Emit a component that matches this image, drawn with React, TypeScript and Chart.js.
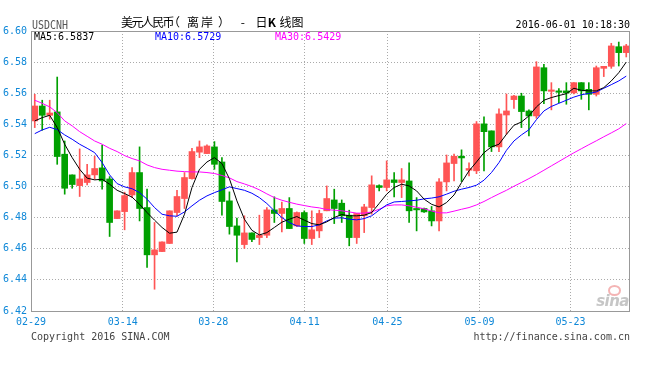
import React, { useEffect, useRef } from 'react';
import { Chart, registerables } from 'chart.js';

Chart.register(...registerables);

// Daily candles (USDCNH), 02-29 .. 06-01
const openP = [
  6.5422, 6.5518, 6.5458, 6.5480, 6.5208, 6.5075, 6.5006, 6.5026, 6.5075, 6.5120,
  6.5049, 6.4794, 6.4839, 6.4946, 6.5090, 6.4865, 6.4561, 6.4582, 6.4634, 6.4833,
  6.4923, 6.5051, 6.5221, 6.5212, 6.5255, 6.5158, 6.4908, 6.4747, 6.4627, 6.4702,
  6.4672, 6.4687, 6.4850, 6.4827, 6.4859, 6.4747, 6.4833, 6.4666, 6.4715, 6.4844,
  6.4914, 6.4893, 6.4816, 6.4672, 6.4812, 6.4865, 6.5006, 6.4994, 6.5043, 6.5026,
  6.5036, 6.4859, 6.4859, 6.4844, 6.4779, 6.5030, 6.5148, 6.5195, 6.5105, 6.5101,
  6.5403, 6.5358, 6.5255, 6.5460, 6.5559, 6.5582, 6.5486, 6.5454, 6.5764, 6.5612,
  6.5615, 6.5615, 6.5602, 6.5668, 6.5625, 6.5593, 6.5760, 6.5773, 6.5899, 6.5861,
];
const highP = [
  6.5593, 6.5555, 6.5555, 6.5704, 6.5293, 6.5075, 6.5242, 6.5143, 6.5195, 6.5266,
  6.5064, 6.4844, 6.4964, 6.5122, 6.5255, 6.4983, 6.4769, 6.4644, 6.4844, 6.4976,
  6.5090, 6.5246, 6.5293, 6.5268, 6.5289, 6.5186, 6.4966, 6.4797, 6.4812, 6.4702,
  6.4816, 6.4865, 6.4934, 6.4901, 6.4929, 6.4837, 6.4844, 6.4844, 6.4848, 6.5004,
  6.4983, 6.4914, 6.4848, 6.4827, 6.4886, 6.5069, 6.5011, 6.5165, 6.5090, 6.5116,
  6.5152, 6.4929, 6.4862, 6.4872, 6.5051, 6.5203, 6.5208, 6.5236, 6.5152, 6.5418,
  6.5448, 6.5358, 6.5499, 6.5595, 6.5587, 6.5600, 6.5493, 6.5803, 6.5786, 6.5668,
  6.5630, 6.5668, 6.5668, 6.5668, 6.5668, 6.5775, 6.5773, 6.5921, 6.5929, 6.5914,
];
const lowP = [
  6.5379, 6.5362, 6.5433, 6.5143, 6.4951, 6.4989, 6.4936, 6.5011, 6.5047, 6.4983,
  6.4679, 6.4794, 6.4722, 6.4929, 6.4779, 6.4480, 6.4340, 6.4582, 6.4634, 6.4812,
  6.4859, 6.5047, 6.5186, 6.5212, 6.5111, 6.4816, 6.4694, 6.4516, 6.4602, 6.4645,
  6.4627, 6.4672, 6.4769, 6.4709, 6.4730, 6.4743, 6.4634, 6.4627, 6.4672, 6.4844,
  6.4762, 6.4769, 6.4619, 6.4634, 6.4704, 6.4822, 6.4972, 6.4972, 6.4934, 6.4929,
  6.4769, 6.4715, 6.4833, 6.4747, 6.4715, 6.4972, 6.5036, 6.5032, 6.5069, 6.5083,
  6.5101, 6.5225, 6.5225, 6.5336, 6.5503, 6.5379, 6.5325, 6.5439, 6.5533, 6.5493,
  6.5540, 6.5529, 6.5596, 6.5561, 6.5493, 6.5582, 6.5707, 6.5760, 6.5775, 6.5833,
];
const closeP = [
  6.5518, 6.5458, 6.5473, 6.5193, 6.4989, 6.5013, 6.5049, 6.5075, 6.5116, 6.5036,
  6.4769, 6.4844, 6.4942, 6.5090, 6.4859, 6.4561, 6.4593, 6.4644, 6.4844, 6.4936,
  6.5058, 6.5225, 6.5255, 6.5261, 6.5143, 6.4904, 6.4743, 6.4687, 6.4702, 6.4660,
  6.4687, 6.4850, 6.4827, 6.4859, 6.4730, 6.4833, 6.4666, 6.4722, 6.4827, 6.4923,
  6.4859, 6.4812, 6.4672, 6.4827, 6.4869, 6.5011, 6.4994, 6.5043, 6.5026, 6.5043,
  6.4844, 6.4850, 6.4837, 6.4779, 6.5030, 6.5152, 6.5195, 6.5184, 6.5116, 6.5403,
  6.5353, 6.5255, 6.5467, 6.5486, 6.5582, 6.5482, 6.5454, 6.5769, 6.5615, 6.5621,
  6.5606, 6.5602, 6.5668, 6.5615, 6.5593, 6.5764, 6.5773, 6.5904, 6.5861, 6.5904,
];

// Moving averages
const ma5 = [
  6.5422, 6.5443, 6.5458, 6.5379, 6.5272, 6.5186, 6.5111, 6.5054, 6.5043, 6.5047,
  6.5015, 6.4976, 6.4955, 6.4932, 6.4886, 6.4833, 6.4784, 6.4737, 6.4700, 6.4707,
  6.4822, 6.4994, 6.5111, 6.5158, 6.5186, 6.5148, 6.5050, 6.4908, 6.4790, 6.4719,
  6.4689, 6.4704, 6.4737, 6.4771, 6.4790, 6.4807, 6.4784, 6.4762, 6.4754, 6.4773,
  6.4801, 6.4820, 6.4812, 6.4812, 6.4816, 6.4833, 6.4891, 6.4951, 6.4994, 6.5015,
  6.5004, 6.4972, 6.4919, 6.4886, 6.4869, 6.4897, 6.4946, 6.5026, 6.5101, 6.5158,
  6.5218, 6.5255, 6.5272, 6.5336, 6.5394, 6.5415, 6.5454, 6.5512, 6.5555, 6.5572,
  6.5585, 6.5597, 6.5632, 6.5619, 6.5615, 6.5615, 6.5636, 6.5679, 6.5732, 6.5800,
];
const ma10 = [
  6.5340, 6.5364, 6.5381, 6.5366, 6.5332, 6.5304, 6.5272, 6.5246, 6.5218, 6.5154,
  6.5075, 6.5019, 6.4998, 6.4986, 6.4961, 6.4919, 6.4865, 6.4822, 6.4812, 6.4809,
  6.4837, 6.4876, 6.4912, 6.4940, 6.4961, 6.4979, 6.4998, 6.4987, 6.4976, 6.4957,
  6.4929, 6.4891, 6.4844, 6.4801, 6.4769, 6.4747, 6.4743, 6.4743, 6.4754, 6.4779,
  6.4797, 6.4799, 6.4790, 6.4786, 6.4794, 6.4812, 6.4848, 6.4882, 6.4901, 6.4904,
  6.4908, 6.4912, 6.4921, 6.4926, 6.4934, 6.4951, 6.4970, 6.4983, 6.4994, 6.5009,
  6.5041, 6.5090, 6.5154, 6.5233, 6.5293, 6.5332, 6.5365, 6.5430, 6.5486, 6.5515,
  6.5535, 6.5555, 6.5575, 6.5590, 6.5599, 6.5608, 6.5632, 6.5655, 6.5679, 6.5710,
];
const ma30 = [
  6.5555, 6.5535, 6.5512, 6.5475, 6.5422, 6.5390, 6.5353, 6.5323, 6.5293, 6.5272,
  6.5246, 6.5225, 6.5199, 6.5180, 6.5165, 6.5139, 6.5122, 6.5111, 6.5105, 6.5099,
  6.5096, 6.5094, 6.5094, 6.5090, 6.5084, 6.5071, 6.5056, 6.5032, 6.5017, 6.5000,
  6.4979, 6.4953, 6.4929, 6.4912, 6.4899, 6.4887, 6.4878, 6.4869, 6.4863, 6.4852,
  6.4848, 6.4844, 6.4837, 6.4829, 6.4829, 6.4837, 6.4854, 6.4876, 6.4882, 6.4882,
  6.4876, 6.4867, 6.4857, 6.4843, 6.4831, 6.4831, 6.4842, 6.4854, 6.4865, 6.4882,
  6.4904, 6.4929, 6.4953, 6.4976, 6.5002, 6.5026, 6.5051, 6.5077, 6.5105, 6.5133,
  6.5161, 6.5189, 6.5217, 6.5243, 6.5269, 6.5294, 6.5320, 6.5345, 6.5371, 6.5405,
];

// Date ticks: position in candle-index units, and their labels
const xTickPos = [-0.5, 11.75, 23.85, 36.05, 47.1, 59.4, 71.55];
const xTickLabels = ['02-29', '03-14', '03-28', '04-11', '04-25', '05-09', '05-23'];
const yTicks = [6.42, 6.44, 6.46, 6.48, 6.5, 6.52, 6.54, 6.56, 6.58, 6.6];

const RED = '#ff5555';
const GREEN = '#00a000';
const TICK_BLUE = '#0f88d8';
const GRID = '#aaaaaa';
const MONO = "'DejaVu Sans Mono', monospace";

const frame = {
  id: 'frame',
  afterDraw(chart: any) {
    const { ctx, chartArea } = chart;
    ctx.save();
    ctx.strokeStyle = '#999999';
    ctx.lineWidth = 1;
    ctx.strokeRect(
      Math.round(chartArea.left) + 0.5,
      Math.round(chartArea.top) + 0.5,
      Math.round(chartArea.right - chartArea.left) - 1,
      Math.round(chartArea.bottom - chartArea.top)
    );
    ctx.restore();
  },
};

export default function App() {
  const ref = useRef<HTMLCanvasElement | null>(null);

  useEffect(() => {
    if (!ref.current) return;
    const n = openP.length;
    const candleColor = (i: number) => (closeP[i] >= openP[i] ? RED : GREEN);
    const colors = openP.map((_, i) => candleColor(i));
    const line = (label: string, data: number[], color: string) => ({
      type: 'line' as const,
      label,
      data: data.map((v, i) => ({ x: i, y: v })),
      borderColor: color,
      borderWidth: 1,
      pointRadius: 0,
      tension: 0,
      fill: false,
      order: 1,
    });

    const chart = new Chart(ref.current, {
      type: 'bar',
      data: {
        datasets: [
          line('MA5', ma5, '#000000'),
          line('MA10', ma10, '#0000ff'),
          line('MA30', ma30, '#ff00ff'),
          {
            type: 'bar',
            label: 'body',
            data: openP.map((o, i) => ({ x: i, y: [o, closeP[i]] })) as any,
            backgroundColor: colors,
            barThickness: 6,
            minBarLength: 1,
            grouped: false,
            borderWidth: 0,
            order: 2,
          },
          {
            type: 'bar',
            label: 'wick',
            data: lowP.map((l, i) => ({ x: i, y: [l, highP[i]] })) as any,
            backgroundColor: colors,
            barThickness: 1,
            grouped: false,
            borderWidth: 0,
            order: 3,
          },
        ] as any,
      },
      options: {
        animation: false,
        responsive: false,
        devicePixelRatio: 1,
        events: [],
        layout: { padding: { left: 0, top: 31, right: 31, bottom: 0 } },
        plugins: { legend: { display: false }, tooltip: { enabled: false } },
        scales: {
          x: {
            type: 'linear',
            offset: false,
            min: -0.5,
            max: n - 0.5,
            afterBuildTicks: (s: any) => {
              s.ticks = xTickPos.map((v) => ({ value: v }));
            },
            afterFit: (s: any) => {
              s.height = 64;
            },
            grid: { color: GRID, lineWidth: 1, drawTicks: false, offset: false },
            border: { display: false, dash: [1, 2] },
            ticks: {
              autoSkip: false,
              maxRotation: 0,
              minRotation: 0,
              padding: 5,
              color: TICK_BLUE,
              font: { family: MONO, size: 10 },
              callback: (_v: any, idx: number) => xTickLabels[idx] ?? '',
            },
          },
          y: {
            type: 'linear',
            min: yTicks[0],
            max: yTicks[yTicks.length - 1],
            afterBuildTicks: (s: any) => {
              s.ticks = yTicks.map((v) => ({ value: v }));
            },
            afterFit: (s: any) => {
              s.width = 31;
            },
            grid: { color: GRID, lineWidth: 1, drawTicks: false },
            border: { display: false, dash: [1, 2] },
            ticks: {
              padding: 4,
              color: TICK_BLUE,
              font: { family: MONO, size: 10 },
              callback: (v: any) => Number(v).toFixed(2),
            },
          },
        },
      } as any,
      plugins: [frame],
    });
    return () => chart.destroy();
  }, []);

  const abs = (s: React.CSSProperties): React.CSSProperties => ({
    position: 'absolute',
    whiteSpace: 'pre',
    ...s,
  });
  const mono10: React.CSSProperties = { fontFamily: MONO, fontSize: 10, lineHeight: '10px' };

  return (
    <div
      style={{
        position: 'fixed',
        left: 0,
        top: 0,
        width: 661,
        height: 375,
        background: '#ffffff',
        overflow: 'hidden',
      }}
    >
      <canvas ref={ref} width={661} height={375} style={{ position: 'absolute', left: 0, top: 0 }} />
      <div
        style={abs({
          left: 32,
          top: 19,
          fontFamily: MONO,
          fontSize: 12,
          lineHeight: '12px',
          color: '#555555',
          transform: 'scaleX(0.83)',
          transformOrigin: 'left top',
        })}
      >
        USDCNH
      </div>
      <div
        style={abs({
          left: 121,
          top: 16,
          fontFamily: "'Noto Sans CJK SC', sans-serif",
          fontSize: 12,
          lineHeight: '12px',
          color: '#000000',
        })}
      >
        <span style={{ letterSpacing: '-1.6px' }}>美元人民币</span>
        <span style={{ marginLeft: -5 }}>（</span>
        <span style={{ marginLeft: 7, letterSpacing: '2px' }}>离岸</span>
        <span style={{ marginLeft: 3 }}>）</span>
        <span style={{ wordSpacing: '8px' }}> - </span>
        <span>
          日<b>K</b>{' '}
        </span>
        <span style={{ marginLeft: 1 }}>线图</span>
      </div>
      <div style={abs({ ...mono10, right: 31, top: 20, color: '#000000' })}>2016-06-01 10:18:30</div>
      <div style={abs({ ...mono10, left: 34, top: 32, color: '#000000' })}>MA5:6.5837</div>
      <div style={abs({ ...mono10, left: 155, top: 32, color: '#0000ff' })}>MA10:6.5729</div>
      <div style={abs({ ...mono10, left: 275, top: 32, color: '#ff00ff' })}>MA30:6.5429</div>
      <div
        style={abs({
          left: 608,
          top: 285,
          width: 9,
          height: 7,
          borderRadius: '50%',
          border: '2px solid #f4b4b4',
        })}
      />
      <div
        style={abs({
          right: 32,
          top: 293,
          fontFamily: "'DejaVu Sans', sans-serif",
          fontSize: 15,
          lineHeight: '16px',
          fontWeight: 'bold',
          fontStyle: 'italic',
          letterSpacing: '-0.5px',
          color: '#c6c6c6',
        })}
      >
        sina
      </div>
      <div style={abs({ ...mono10, left: 31, top: 332, color: '#444444' })}>Copyright 2016 SINA.COM</div>
      <div style={abs({ ...mono10, right: 31, top: 332, color: '#444444' })}>http://finance.sina.com.cn</div>
    </div>
  );
}
